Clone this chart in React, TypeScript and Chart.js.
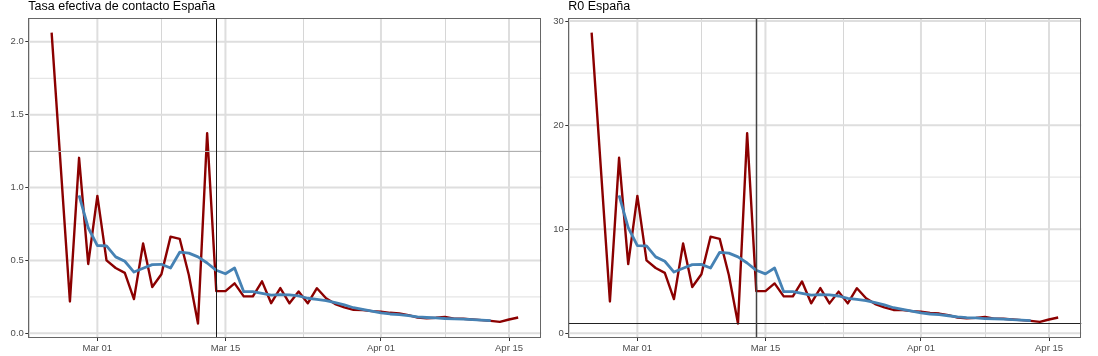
import React, { useEffect, useRef } from 'react';
import { Chart, registerables } from 'chart.js';

Chart.register(...registerables);

// ---------- data ----------
const dates = [
  '2020-02-25', '2020-02-26', '2020-02-27', '2020-02-28', '2020-02-29',
  '2020-03-01', '2020-03-02', '2020-03-03', '2020-03-04', '2020-03-05',
  '2020-03-06', '2020-03-07', '2020-03-08', '2020-03-09', '2020-03-10',
  '2020-03-11', '2020-03-12', '2020-03-13', '2020-03-14', '2020-03-15',
  '2020-03-16', '2020-03-17', '2020-03-18', '2020-03-19', '2020-03-20',
  '2020-03-21', '2020-03-22', '2020-03-23', '2020-03-24', '2020-03-25',
  '2020-03-26', '2020-03-27', '2020-03-28', '2020-03-29', '2020-03-30',
  '2020-03-31', '2020-04-01', '2020-04-02', '2020-04-03', '2020-04-04',
  '2020-04-05', '2020-04-06', '2020-04-07', '2020-04-08', '2020-04-09',
  '2020-04-10', '2020-04-11', '2020-04-12', '2020-04-13', '2020-04-14',
  '2020-04-15', '2020-04-16',
];

// daily effective contact rate (dark red)
const tasaDaily = [
  2.064, 1.14, 0.218, 1.204, 0.475, 0.943, 0.5, 0.448, 0.414, 0.234,
  0.616, 0.317, 0.405, 0.663, 0.648, 0.4, 0.067, 1.373, 0.289, 0.289,
  0.342, 0.253, 0.253, 0.356, 0.206, 0.31, 0.205, 0.286, 0.205, 0.309,
  0.24, 0.2, 0.177, 0.16, 0.159, 0.152, 0.147, 0.14, 0.135, 0.124,
  0.108, 0.103, 0.106, 0.112, 0.1, 0.099, 0.094, 0.09, 0.085, 0.078,
  0.094, 0.108,
];

// smoothed effective contact rate (steel blue), from 2020-02-28 to 2020-04-13
const smoothStart = '2020-02-28';
const tasaSmooth = [
  0.947, 0.724, 0.602, 0.6, 0.524, 0.494, 0.42, 0.446, 0.471, 0.473,
  0.448, 0.556, 0.55, 0.524, 0.482, 0.432, 0.408, 0.448, 0.285, 0.285,
  0.273, 0.262, 0.265, 0.263, 0.256, 0.24, 0.233, 0.224, 0.21, 0.194,
  0.175, 0.164, 0.152, 0.14, 0.132, 0.128, 0.12, 0.112, 0.108, 0.105,
  0.101, 0.099, 0.097, 0.093, 0.09, 0.087,
];

// daily R0 (dark red)
const r0Daily = [
  28.9, 15.96, 3.05, 16.86, 6.65, 13.2, 7.0, 6.27, 5.8, 3.28,
  8.62, 4.44, 5.67, 9.28, 9.07, 5.6, 0.94, 19.22, 4.05, 4.05,
  4.79, 3.54, 3.54, 4.98, 2.88, 4.34, 2.87, 4.0, 2.87, 4.33,
  3.36, 2.8, 2.48, 2.24, 2.23, 2.13, 2.06, 1.96, 1.89, 1.74,
  1.51, 1.44, 1.48, 1.57, 1.4, 1.39, 1.32, 1.26, 1.19, 1.09,
  1.32, 1.51,
];

// smoothed R0 (steel blue)
const r0Smooth = [
  13.26, 10.14, 8.43, 8.4, 7.34, 6.92, 5.88, 6.24, 6.59, 6.62,
  6.27, 7.78, 7.7, 7.34, 6.75, 6.05, 5.71, 6.27, 3.99, 3.99,
  3.82, 3.67, 3.71, 3.68, 3.58, 3.36, 3.26, 3.14, 2.94, 2.72,
  2.45, 2.3, 2.13, 1.96, 1.85, 1.79, 1.68, 1.57, 1.51, 1.47,
  1.41, 1.39, 1.36, 1.3, 1.26, 1.22,
];

const xTickDates = ['2020-03-01', '2020-03-15', '2020-04-01', '2020-04-15'];
const xTickLabels = ['Mar 01', 'Mar 15', 'Apr 01', 'Apr 15'];
const xGridDates = ['2020-02-15', '2020-03-01', '2020-03-15', '2020-04-01', '2020-04-15', '2020-05-01'];

const tasaYTicks = [0, 0.5, 1, 1.5, 2];
const tasaYLabels = ['0.0', '0.5', '1.0', '1.5', '2.0'];
const tasaYMinor = [0.25, 0.75, 1.25, 1.75];

const r0YTicks = [0, 10, 20, 30];
const r0YLabels = ['0', '10', '20', '30'];
const r0YMinor = [5, 15, 25];

const interventionDate = '2020-03-14';
const tasaRefLevel = 1.25;
const r0RefLevel = 1;

// ---------- helpers ----------
const DAY = 86400000;
const dayIndex = (d: string) => (Date.parse(d + 'T00:00:00Z') - Date.parse(dates[0] + 'T00:00:00Z')) / DAY;

const FONT = "'Liberation Sans', Arial, Helvetica, sans-serif";
const H = 356;
const PLOT_TOP = 18;
const PLOT_BOTTOM = 338;

const panelDecor = {
  id: 'panelDecor',
  beforeDatasetsDraw(chart: any, _args: any, opts: any) {
    const { ctx, chartArea: a, scales } = chart;
    const xs = scales.x;
    const ys = scales.y;
    ctx.save();
    ctx.beginPath();
    ctx.rect(a.left, a.top, a.right - a.left, a.bottom - a.top);
    ctx.clip();
    // horizontal minor
    ctx.strokeStyle = '#e6e6e6';
    ctx.lineWidth = 1.3;
    for (const v of opts.yMinor) {
      const p = ys.getPixelForValue(v);
      ctx.beginPath(); ctx.moveTo(a.left, p); ctx.lineTo(a.right, p); ctx.stroke();
    }
    // vertical minor
    ctx.strokeStyle = '#d6d6d6';
    ctx.lineWidth = 1;
    for (const v of opts.xMinor) {
      const p = Math.round(xs.getPixelForValue(v)) + 0.5;
      ctx.beginPath(); ctx.moveTo(p, a.top); ctx.lineTo(p, a.bottom); ctx.stroke();
    }
    // major
    ctx.strokeStyle = '#dedede';
    ctx.lineWidth = 2;
    for (const v of opts.yMajor) {
      const p = ys.getPixelForValue(v);
      ctx.beginPath(); ctx.moveTo(a.left, p); ctx.lineTo(a.right, p); ctx.stroke();
    }
    for (const v of opts.xMajor) {
      const p = xs.getPixelForValue(v);
      ctx.beginPath(); ctx.moveTo(p, a.top); ctx.lineTo(p, a.bottom); ctx.stroke();
    }
    ctx.restore();
  },
  afterDatasetsDraw(chart: any, _args: any, opts: any) {
    const { ctx, chartArea: a, scales } = chart;
    const xs = scales.x;
    const ys = scales.y;
    ctx.save();
    ctx.beginPath();
    ctx.rect(a.left, a.top, a.right - a.left, a.bottom - a.top);
    ctx.clip();
    // horizontal reference
    const hy = Math.round(ys.getPixelForValue(opts.hline)) + 0.5;
    ctx.strokeStyle = opts.hColor;
    ctx.lineWidth = opts.hWidth;
    ctx.beginPath(); ctx.moveTo(a.left, hy); ctx.lineTo(a.right, hy); ctx.stroke();
    // vertical reference
    const vx = Math.round(xs.getPixelForValue(opts.vline)) + 0.5;
    ctx.strokeStyle = opts.vColor;
    ctx.lineWidth = opts.vWidth;
    ctx.beginPath(); ctx.moveTo(vx, a.top); ctx.lineTo(vx, a.bottom); ctx.stroke();
    ctx.restore();
    // panel border
    ctx.save();
    ctx.strokeStyle = '#666666';
    ctx.lineWidth = 1;
    ctx.strokeRect(Math.round(a.left) + 0.5, Math.round(a.top) + 0.5,
      Math.round(a.right - a.left) - 1, Math.round(a.bottom - a.top) - 1);
    ctx.restore();
  },
};

type PanelProps = {
  title: string;
  daily: number[];
  smooth: number[];
  yTicks: number[];
  yLabels: string[];
  yMinor: number[];
  hline: number;
  hColor: string;
  hWidth: number;
  vColor: string;
  vWidth: number;
  left: number;
  width: number;
  plotLeft: number;
  plotRight: number;
};

function Panel(p: PanelProps) {
  const ref = useRef<HTMLCanvasElement | null>(null);

  useEffect(() => {
    if (!ref.current) return;
    const xDaily = dates.map(dayIndex);
    const s0 = dayIndex(smoothStart);
    const n = dates.length - 1;
    const xMin = 0 - 0.05 * n;
    const xMax = n + 0.05 * n;
    const lo = Math.min(...p.daily);
    const hi = Math.max(...p.daily);
    const yMin = lo - 0.05 * (hi - lo);
    const yMax = hi + 0.05 * (hi - lo);
    const xTicks = xTickDates.map(dayIndex);
    const gridIdx = xGridDates.map(dayIndex);
    const xMinor: number[] = [];
    for (let i = 0; i < gridIdx.length - 1; i++) xMinor.push((gridIdx[i] + gridIdx[i + 1]) / 2);

    const localLeft = p.plotLeft - p.left;
    const localRight = p.plotRight - p.left;

    const chart = new Chart(ref.current, {
      type: 'line',
      data: {
        datasets: [
          {
            label: 'suavizado',
            data: p.smooth.map((v, i) => ({ x: s0 + i, y: v })),
            borderColor: '#4682B4',
            borderWidth: 2.8,
            pointRadius: 0,
            fill: false,
            tension: 0,
            borderJoinStyle: 'round',
          },
          {
            label: 'diario',
            data: p.daily.map((v, i) => ({ x: xDaily[i], y: v })),
            borderColor: '#8B0000',
            borderWidth: 2.4,
            pointRadius: 0,
            fill: false,
            tension: 0,
            borderJoinStyle: 'round',
          },
        ],
      },
      options: {
        responsive: false,
        animation: false,
        devicePixelRatio: 1,
        layout: { padding: { top: PLOT_TOP, left: 0, bottom: 0, right: p.width - localRight } },
        plugins: {
          legend: { display: false },
          tooltip: { enabled: false },
          title: { display: false },
          panelDecor: {
            xMajor: xTicks,
            xMinor,
            yMajor: p.yTicks,
            yMinor: p.yMinor,
            hline: p.hline,
            hColor: p.hColor,
            hWidth: p.hWidth,
            vline: dayIndex(interventionDate),
            vColor: p.vColor,
            vWidth: p.vWidth,
          },
        } as any,
        scales: {
          x: {
            type: 'linear',
            min: xMin,
            max: xMax,
            afterBuildTicks: (s: any) => { s.ticks = xTicks.map((v) => ({ value: v })); },
            afterFit: (s: any) => { s.height = H - PLOT_BOTTOM; },
            ticks: {
              autoSkip: false,
              maxRotation: 0,
              minRotation: 0,
              padding: 1.5,
              color: '#4d4d4d',
              font: { family: FONT, size: 9.5 },
              callback: (_v: any, i: number) => xTickLabels[i],
            },
            grid: { display: true, drawOnChartArea: false, drawTicks: true, tickLength: 3, tickColor: '#333333', lineWidth: 1 },
            border: { display: false },
          },
          y: {
            type: 'linear',
            min: yMin,
            max: yMax,
            afterBuildTicks: (s: any) => { s.ticks = p.yTicks.map((v) => ({ value: v })); },
            afterFit: (s: any) => { s.width = localLeft; },
            ticks: {
              autoSkip: false,
              padding: 1.5,
              color: '#4d4d4d',
              font: { family: FONT, size: 9.5 },
              callback: (_v: any, i: number) => p.yLabels[i],
            },
            grid: { display: true, drawOnChartArea: false, drawTicks: true, tickLength: 3, tickColor: '#333333', lineWidth: 1 },
            border: { display: false },
          },
        },
      } as any,
      plugins: [panelDecor as any],
    });
    return () => chart.destroy();
  }, []);

  return (
    <div style={{ position: 'absolute', left: p.left, top: 0, width: p.width, height: H }}>
      <canvas ref={ref} width={p.width} height={H} style={{ display: 'block', width: p.width, height: H }} />
      <div
        style={{
          position: 'absolute',
          left: p.plotLeft - p.left,
          top: 0,
          fontFamily: FONT,
          fontSize: '12.5px',
          lineHeight: '13px',
          color: '#000',
          whiteSpace: 'nowrap',
        }}
      >
        {p.title}
      </div>
    </div>
  );
}

export default function App() {
  return (
    <div style={{ position: 'absolute', left: 0, top: 0, width: 1098, height: H, background: '#ffffff', overflow: 'hidden' }}>
      <Panel
        title="Tasa efectiva de contacto España"
        daily={tasaDaily}
        smooth={tasaSmooth}
        yTicks={tasaYTicks}
        yLabels={tasaYLabels}
        yMinor={tasaYMinor}
        hline={tasaRefLevel}
        hColor="#b0b0b0"
        hWidth={1.2}
        vColor="#1a1a1a"
        vWidth={1}
        left={0}
        width={548}
        plotLeft={28.3}
        plotRight={541.5}
      />
      <Panel
        title="R0 España"
        daily={r0Daily}
        smooth={r0Smooth}
        yTicks={r0YTicks}
        yLabels={r0YLabels}
        yMinor={r0YMinor}
        hline={r0RefLevel}
        hColor="#222222"
        hWidth={1}
        vColor="#444444"
        vWidth={1.5}
        left={540}
        width={558}
        plotLeft={568.3}
        plotRight={1081.5}
      />
    </div>
  );
}
